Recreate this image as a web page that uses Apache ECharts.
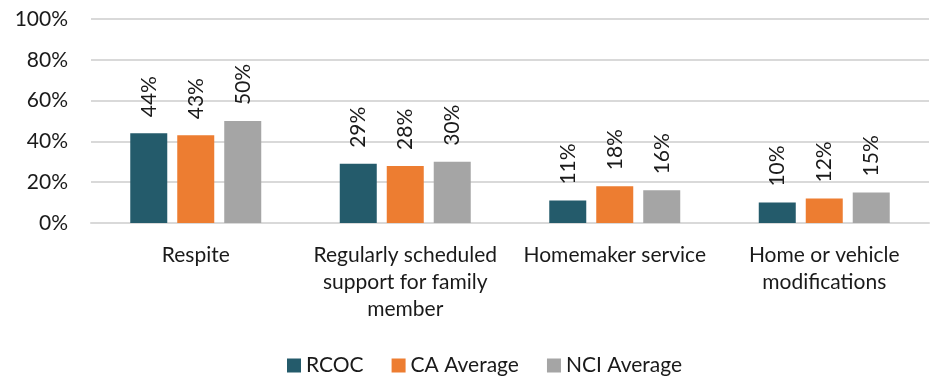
<!DOCTYPE html>
<html>
<head>
<meta charset="utf-8">
<style>
  html, body { margin: 0; padding: 0; background: #fff; }
  #chart { width: 940px; height: 377px; }
</style>
<script src="https://cdn.jsdelivr.net/npm/echarts@6/dist/echarts.min.js"></script>
</head>
<body>
<div id="chart"></div>
<script>
// Service categories (line breaks control label wrapping)
const categories = [
  'Respite',
  'Regularly scheduled\nsupport for family\nmember',
  'Homemaker service',
  'Home or vehicle\nmodifications'
];
const seriesNames = ['RCOC', 'CA Average', 'NCI Average'];
const rcoc = [44, 29, 11, 10];
const caAverage = [43, 28, 18, 12];
const nciAverage = [50, 30, 16, 15];
const yTicks = [0, 20, 40, 60, 80, 100];

const colors = ['#245B6B', '#ED7D31', '#A5A5A5'];
const fontFamily = 'Lato, "Open Sans", sans-serif';
const textColor = '#1a1a1a';

const chart = echarts.init(document.getElementById('chart'), null, { renderer: 'canvas' });

function makeSeries(name, data, color) {
  return {
    name: name,
    type: 'bar',
    data: data,
    barWidth: 37,
    barGap: '27%',
    itemStyle: { color: color },
    label: {
      show: true,
      position: 'top',
      rotate: 90,
      align: 'left',
      verticalAlign: 'middle',
      distance: 16,
      formatter: p => p.value + '%',
      color: textColor,
      fontSize: 21,
      fontFamily: fontFamily
    }
  };
}

chart.setOption({
  animation: false,
  color: colors,
  grid: { left: 91, right: 11, top: 19, bottom: 154, containLabel: false },
  legend: {
    data: seriesNames,
    top: 350,
    left: 282,
    itemWidth: 14,
    itemHeight: 14,
    itemGap: 28,
    icon: 'rect',
    textStyle: { fontSize: 21, color: textColor, fontFamily: fontFamily }
  },
  xAxis: {
    type: 'category',
    data: categories,
    axisLine: { lineStyle: { color: '#D9D9D9', width: 2 } },
    axisTick: { show: false },
    axisLabel: {
      interval: 0,
      margin: 19,
      fontSize: 21,
      lineHeight: 27,
      color: textColor,
      fontFamily: fontFamily
    }
  },
  yAxis: {
    type: 'value',
    min: yTicks[0],
    max: yTicks[yTicks.length - 1],
    interval: 20,
    axisLine: { show: false },
    axisTick: { show: false },
    splitLine: { lineStyle: { color: '#D9D9D9', width: 2 } },
    axisLabel: {
      margin: 23,
      formatter: v => v + '%',
      fontSize: 21,
      color: textColor,
      fontFamily: fontFamily
    }
  },
  series: [
    makeSeries(seriesNames[0], rcoc, colors[0]),
    makeSeries(seriesNames[1], caAverage, colors[1]),
    makeSeries(seriesNames[2], nciAverage, colors[2])
  ]
});
</script>
</body>
</html>
